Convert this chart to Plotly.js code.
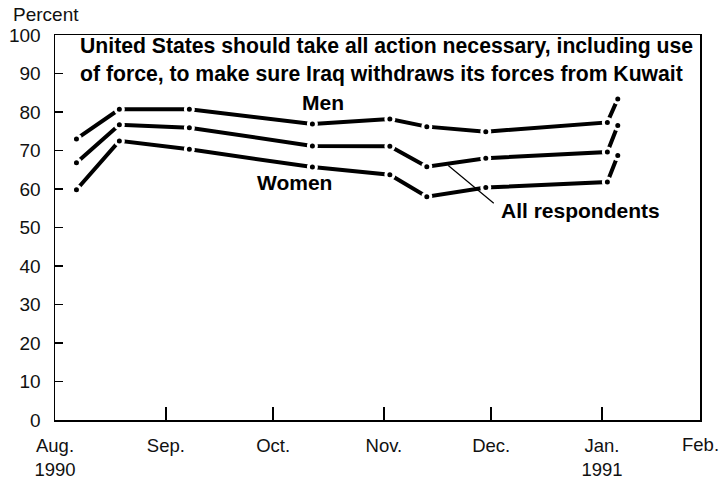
<!DOCTYPE html>
<html><head><meta charset="utf-8">
<script src="https://cdn.plot.ly/plotly-3.0.1.min.js"></script>
<style>html,body{margin:0;padding:0;background:#fff}</style>
</head><body><div id="chart" style="width:720px;height:486px"></div>
<script>
// Survey dates
const surveyDates = ['1990-08-07','1990-08-19','1990-09-07 14:00','1990-10-12','1990-11-02 16:00','1990-11-13','1990-11-29 12:00','1991-01-02 12:00','1991-01-05 10:00'];
const men   = [73.0, 80.7, 80.7, 76.9, 78.2, 76.2, 74.9, 77.3, 83.4];
const allResp = [66.8, 76.7, 75.9, 71.2, 71.1, 65.8, 68.0, 69.6, 76.5];
const women = [59.8, 72.5, 70.3, 65.7, 63.7, 58.0, 60.4, 61.8, 68.7];

const monthTicks  = ['1990-08-01','1990-09-01','1990-10-01','1990-11-01','1990-12-01','1991-01-01'];
const monthLabels = ['Aug.<br>1990','Sep.','Oct.','Nov.','Dec.','Jan.<br>1991'];
const yTicks = [0,10,20,30,40,50,60,70,80,90,100];
const xRange = ['1990-08-01','1991-01-28 10:00'];

const titleText = 'United States should take all action necessary, including use<br>of force, to make sure Iraq withdraws its forces from Kuwait';

const FONT = 'Liberation Sans, Arial, Helvetica, sans-serif';

function series(y, name) {
  return {
    type: 'scatter', mode: 'lines+markers', name: name,
    x: surveyDates, y: y,
    line: {color: '#000', width: 4},
    marker: {color: '#000', size: 8, line: {color: '#fff', width: 3}},
    hoverinfo: 'x+y'
  };
}

const data = [series(men, 'Men'), series(allResp, 'All respondents'), series(women, 'Women')];

const layout = {
  width: 720, height: 486,
  margin: {l: 55, r: 20, t: 35, b: 66},
  paper_bgcolor: '#fff', plot_bgcolor: '#fff',
  showlegend: false,
  font: {family: FONT, size: 18, color: '#111'},
  xaxis: {
    type: 'date', range: xRange,
    tickmode: 'array', tickvals: monthTicks, ticktext: monthLabels,
    ticks: 'inside', ticklen: 13, tickwidth: 1.5, tickcolor: '#000',
    showline: true, linecolor: '#000', linewidth: 1.5, mirror: true,
    showgrid: false, zeroline: false,
    tickfont: {family: FONT, size: 18.5, color: '#111'},
    ticklabelstandoff: 8
  },
  yaxis: {
    range: [0, 100],
    tickmode: 'array', tickvals: yTicks,
    ticks: 'inside', ticklen: 8, tickwidth: 1.5, tickcolor: '#000',
    showline: true, linecolor: '#000', linewidth: 1.5, mirror: true,
    showgrid: false, zeroline: false,
    tickfont: {family: FONT, size: 19, color: '#111'},
    ticklabelstandoff: 9
  },
  annotations: [
    {text: 'Percent', xref: 'paper', yref: 'paper', x: -0.068, y: 1.0545, xanchor: 'left', yanchor: 'middle', showarrow: false,
     font: {family: FONT, size: 19, color: '#111'}},
    {text: '<b>' + titleText + '</b>', xref: 'paper', yref: 'paper', x: 0.035, y: 0.935, xanchor: 'left', yanchor: 'middle', align: 'left', showarrow: false,
     font: {family: FONT, size: 21.2, color: '#000'}},
    {text: '<b>Men</b>', xref: 'x', yref: 'y', x: '1990-10-15', y: 82.4, showarrow: false, font: {family: FONT, size: 21, color: '#000'}},
    {text: '<b>Women</b>', xref: 'x', yref: 'y', x: '1990-10-07', y: 61.7, showarrow: false, font: {family: FONT, size: 21, color: '#000'}},
    {text: '<b>All respondents</b>', xref: 'x', yref: 'y', x: '1990-12-26', y: 54.4, showarrow: false, font: {family: FONT, size: 21, color: '#000'}},
    {text: '', xref: 'x', yref: 'y', x: '1990-11-19', y: 66.1, showarrow: true, arrowhead: 0, arrowwidth: 1.2, arrowcolor: '#000', ax: 47, ay: 39},
    {text: 'Feb.', xref: 'paper', yref: 'paper', x: 1, y: 0, xanchor: 'center', yanchor: 'top', yshift: -12, showarrow: false,
     font: {family: FONT, size: 18.5, color: '#111'}}
  ]
};

Plotly.newPlot('chart', data, layout, {displayModeBar: false, staticPlot: true});
</script>
</body></html>
